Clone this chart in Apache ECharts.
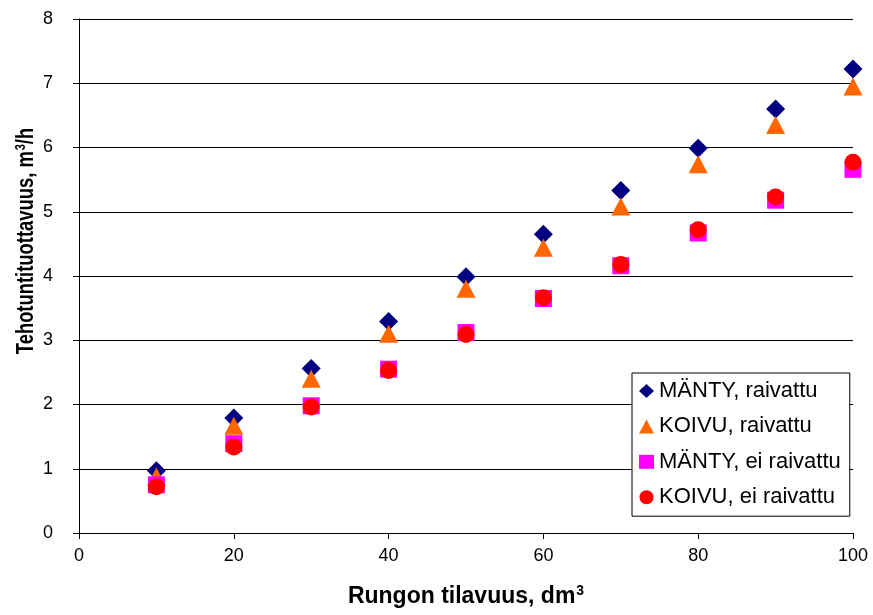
<!DOCTYPE html>
<html>
<head>
<meta charset="utf-8">
<script src="https://cdn.jsdelivr.net/npm/echarts@6/dist/echarts.min.js"></script>
<style>
html,body{margin:0;padding:0;background:#fff;}
#chart{width:873px;height:615px;}
</style>
</head>
<body>
<div id="chart"></div>
<script>
const xValues = [10, 20, 30, 40, 50, 60, 70, 80, 90, 100];
const manty_raivattu = [0.97, 1.79, 2.56, 3.29, 3.99, 4.65, 5.33, 5.99, 6.60, 7.22];
const koivu_raivattu = [0.88, 1.67, 2.40, 3.10, 3.80, 4.44, 5.08, 5.74, 6.35, 6.95];
const manty_ei_raivattu = [0.75, 1.39, 1.98, 2.55, 3.12, 3.65, 4.16, 4.67, 5.18, 5.66];
const koivu_ei_raivattu = [0.72, 1.34, 1.96, 2.53, 3.09, 3.66, 4.18, 4.72, 5.23, 5.77];
const seriesNames = ['MÄNTY, raivattu', 'KOIVU, raivattu', 'MÄNTY, ei raivattu', 'KOIVU, ei raivattu'];
const xTitle = '{a|Rungon tilavuus, dm}{s|3}';
const yTitle = '{a|Tehotuntituottavuus, m}{s|3}{a|/h}';

const pair = arr => xValues.map((x, i) => [x, arr[i]]);
const font = '"Liberation Sans", Arial, sans-serif';
const titleRich = {
  a: {fontSize: 23, fontWeight: 'bold', color: '#000', fontFamily: font, lineHeight: 24, verticalAlign: 'bottom'},
  s: {fontSize: 14, fontWeight: 'bold', color: '#000', fontFamily: font, lineHeight: 14, padding: [0, 0, 10, 1], verticalAlign: 'bottom'}
};

const chart = echarts.init(document.getElementById('chart'), null, {renderer: 'canvas'});
chart.setOption({
  animation: false,
  backgroundColor: '#fff',
  textStyle: {fontFamily: font},
  grid: {left: 79, right: 20, top: 19, bottom: 82},
  xAxis: {
    type: 'value', min: 0, max: 100, interval: 20,
    axisLine: {show: true, onZero: false, lineStyle: {color: '#000', width: 1}},
    axisTick: {show: true, inside: false, length: 6, lineStyle: {color: '#000'}},
    axisLabel: {color: '#000', fontSize: 18, fontFamily: font, margin: 14},
    splitLine: {show: false},
    name: xTitle,
    nameLocation: 'middle', nameGap: 51,
    nameTextStyle: {rich: titleRich}
  },
  yAxis: {
    type: 'value', min: 0, max: 8, interval: 1,
    axisLine: {show: true, onZero: false, lineStyle: {color: '#000', width: 1}},
    axisTick: {show: true, inside: false, length: 6, lineStyle: {color: '#000'}},
    axisLabel: {color: '#000', fontSize: 18, fontFamily: font, margin: 26},
    splitLine: {show: true, lineStyle: {color: '#000', width: 1}}
  },
  graphic: [{
    type: 'text',
    x: 26, y: 241,
    rotation: Math.PI / 2,
    scaleX: 0.8,
    style: {
      text: yTitle,
      rich: titleRich,
      align: 'center',
      verticalAlign: 'middle'
    }
  }],
  legend: {
    orient: 'vertical',
    left: 632, top: 373,
    padding: [7, 9, 8, 7],
    itemGap: 13.4,
    itemWidth: 15, itemHeight: 14,
    backgroundColor: '#fff',
    borderColor: '#000', borderWidth: 1,
    textStyle: {fontSize: 22, color: '#000', fontFamily: font, lineHeight: 22},
    data: [
      {name: seriesNames[0], icon: 'diamond'},
      {name: seriesNames[1], icon: 'triangle'},
      {name: seriesNames[2], icon: 'rect'},
      {name: seriesNames[3], icon: 'circle'}
    ]
  },
  series: [
    {name: seriesNames[0], type: 'scatter', data: pair(manty_raivattu), symbol: 'diamond', symbolSize: [19, 19], itemStyle: {color: '#000080', opacity: 1}},
    {name: seriesNames[1], type: 'scatter', data: pair(koivu_raivattu), symbol: 'triangle', symbolSize: [19, 18], itemStyle: {color: '#FF6600', opacity: 1}},
    {name: seriesNames[2], type: 'scatter', data: pair(manty_ei_raivattu), symbol: 'rect', symbolSize: [17, 17], itemStyle: {color: '#FF00FF', opacity: 1}},
    {name: seriesNames[3], type: 'scatter', data: pair(koivu_ei_raivattu), symbol: 'circle', symbolSize: 17, itemStyle: {color: '#FF0000', opacity: 1}}
  ]
});
</script>
</body>
</html>
